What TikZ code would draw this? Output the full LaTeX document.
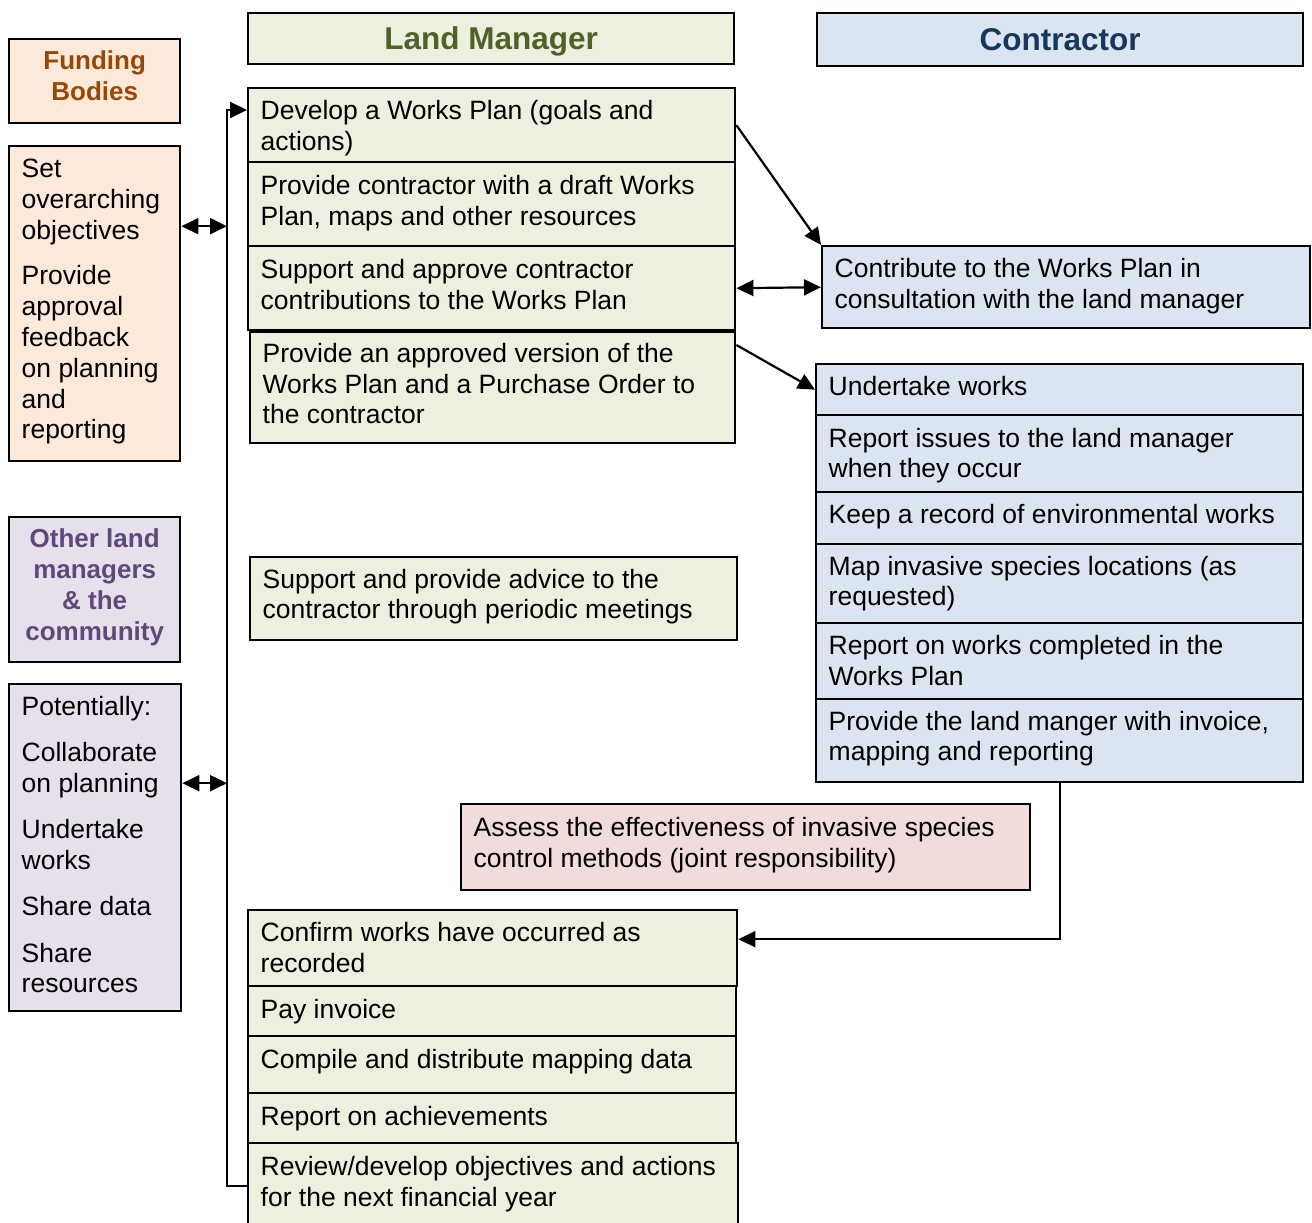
\documentclass[tikz,border=0pt]{standalone}
\usepackage{fontspec}
\setmainfont{Liberation Sans}
\usetikzlibrary{arrows.meta,calc}
\definecolor{lmfill}{HTML}{EBF1DE}
\definecolor{cfill}{HTML}{DBE5F1}
\definecolor{ffill}{HTML}{FDE9D9}
\definecolor{ofill}{HTML}{E5E0EC}
\definecolor{pfill}{HTML}{F2DCDB}
\definecolor{lmtext}{HTML}{4F6228}
\definecolor{ctext}{HTML}{17375E}
\definecolor{ftext}{HTML}{984806}
\definecolor{otext}{HTML}{5F497A}
\newcommand\tb[8][0]{%
  \node[bx, fill=#3, minimum width=#6pt, minimum height=#7pt] (#2) at (#4,#5) {};
  \node[txt, anchor=west] (#2t) at ([xshift=13.5pt,yshift=#1pt]#2.west) {#8};
}
\begin{document}
\begin{tikzpicture}[x=1pt,y=-1pt,
  bx/.style={draw, line width=2.4pt, anchor=north west, inner sep=0pt},
  txt/.style={align=left, inner sep=0pt, font=\fontsize{26.5}{30.8}\selectfont},
  hdr/.style={align=center, inner sep=0pt, font=\fontsize{31.5}{36}\selectfont\bfseries},
  shdr/.style={align=center, inner sep=0pt, font=\fontsize{26}{31}\selectfont\bfseries},
  ln/.style={line width=2.2pt},
  tip/.tip={Triangle[length=17pt,width=16pt]}]
\useasboundingbox[fill=white] (0,0) rectangle (1312,1223);

% left column
\node[bx, fill=ffill, minimum width=171pt, minimum height=84pt] (fundH) at (8,38) {};
\node[shdr, text=ftext] (fundHt) at ([yshift=5pt]fundH.center) {Funding\\Bodies};
\tb[2]{fund}{ffill}{8}{145}{171}{315}{Set\\overarching\\objectives\\[15pt]Provide\\approval\\feedback\\on planning\\and\\reporting}
\node[bx, fill=ofill, minimum width=171pt, minimum height=145pt] (othH) at (8,516) {};
\node[shdr, text=otext] (othHt) at ([yshift=2pt]othH.center) {Other land\\managers\\\& the\\community};
\tb[3]{oth}{ofill}{8}{683}{172}{327}{Potentially:\\[15.5pt]Collaborate\\on planning\\[15.5pt]Undertake\\works\\[15.5pt]Share data\\[15.5pt]Share\\resources}

% land manager
\node[bx, fill=lmfill, minimum width=486pt, minimum height=51pt] (lmH) at (247,12) {};
\node[hdr, text=lmtext] (lmHt) at ([yshift=-3pt]lmH.center) {Land Manager};
\tb[-3]{l1}{lmfill}{247}{87}{487}{74}{Develop a Works Plan (goals and\\actions)}
\tb[1]{l2}{lmfill}{247}{161}{487}{84}{Provide contractor with a draft Works\\Plan, maps and other resources}
\tb[4]{l3}{lmfill}{247}{245}{487}{84}{Support and approve contractor\\contributions to the Works Plan}
\tb[4]{l4}{lmfill}{249}{331}{485}{111}{Provide an approved version of the\\Works Plan and a Purchase Order to\\the contractor}
\tb[2]{l5}{lmfill}{249}{556}{487}{83}{Support and provide advice to the\\contractor through periodic meetings}
\tb[2]{as}{pfill}{460}{803}{569}{86}{Assess the effectiveness of invasive species\\control methods (joint responsibility)}
\tb[1]{b1}{lmfill}{247}{909}{489}{76}{Confirm works have occurred as\\recorded}
\tb{b2}{lmfill}{247}{985}{488}{50}{Pay invoice}
\tb[3]{b3}{lmfill}{247}{1035}{488}{57}{Compile and distribute mapping data}
\tb{b4}{lmfill}{247}{1092}{488}{50}{Report on achievements}
\tb[2]{b5}{lmfill}{247}{1142}{490}{86}{Review/develop objectives and actions\\for the next financial year}

% contractor
\node[bx, fill=cfill, minimum width=486pt, minimum height=53pt] (cH) at (816,12) {};
\node[hdr, text=ctext] (cHt) at (cH.center) {Contractor};
\tb[1]{c0}{cfill}{821}{245}{488}{82}{Contribute to the Works Plan in\\consultation with the land manager}
\tb[4]{c1}{cfill}{815}{363}{487}{51}{Undertake works}
\tb[-2]{c2}{cfill}{815}{414}{487}{77}{Report issues to the land manager\\when they occur}
\tb[2]{c3}{cfill}{815}{491}{487}{52}{Keep a record of environmental works}
\tb{c4}{cfill}{815}{543}{487}{79}{Map invasive species locations (as\\requested)}
\tb[1]{c5}{cfill}{815}{622}{487}{76}{Report on works completed in the\\Works Plan}
\tb[2]{c6}{cfill}{815}{698}{487}{83}{Provide the land manger with invoice,\\mapping and reporting}

% connectors
\coordinate (loopx) at (227,0);
\draw[ln, -tip] (b5.west) -- (loopx |- b5.west) |- ([yshift=-23pt]l1.north west);
\coordinate (a1) at ([yshift=77.5pt]fund.east);
\draw[ln, tip-tip] (a1) -- (a1 -| loopx);
\coordinate (a2) at ([yshift=64.5pt]oth.east);
\draw[ln, tip-tip] (a2) -- (a2 -| loopx);
\draw[ln, -tip] (l1.east) -- (c0.north west);
\draw[ln, tip-tip] (l3.east) -- (c0.west);
\draw[ln, -tip] ([yshift=-14pt]l4.north east) -- (c1.west);
\draw[ln, -tip] (c6.south) |- ([yshift=9pt]b1.east);
\end{tikzpicture}
\end{document}
